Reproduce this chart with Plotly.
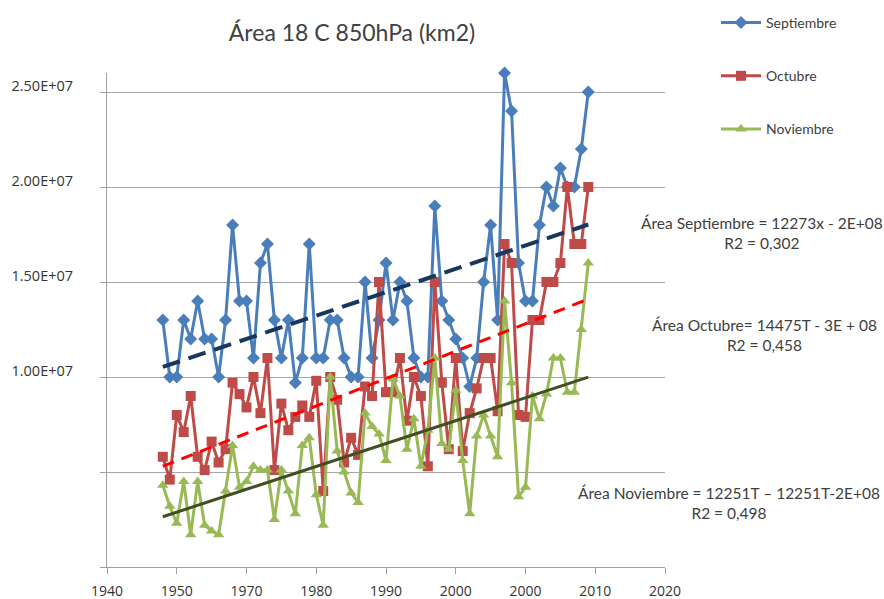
import numpy as np
import plotly.graph_objects as go

years = list(range(1948, 2010))

septiembre = [1.30, 1.00, 1.00, 1.30, 1.20, 1.40, 1.20, 1.20, 1.00, 1.30,
              1.80, 1.40, 1.40, 1.10, 1.60, 1.70, 1.30, 1.10, 1.30, 0.97,
              1.10, 1.70, 1.10, 1.10, 1.30, 1.30, 1.10, 1.00, 1.00, 1.50,
              1.10, 1.30, 1.60, 1.30, 1.50, 1.40, 1.10, 1.00, 1.00, 1.90,
              1.40, 1.30, 1.20, 1.10, 0.95, 1.10, 1.50, 1.80, 1.30, 2.60,
              2.40, 1.60, 1.40, 1.40, 1.80, 2.00, 1.90, 2.10, 2.00, 2.00,
              2.20, 2.50]
septiembre = [v * 1e7 for v in septiembre]

octubre = [5.8, 4.6, 8.0, 7.1, 9.0, 5.8, 5.1, 6.6, 5.5, 6.2,
           9.7, 9.1, 8.4, 10.0, 8.1, 11.0, 5.1, 8.6, 7.2, 7.9,
           8.5, 7.9, 9.8, 4.0, 10.0, 8.8, 5.5, 6.8, 5.9, 9.5,
           9.0, 15.0, 9.2, 9.2, 11.0, 7.7, 10.0, 9.0, 5.3, 15.0,
           9.7, 6.2, 11.0, 6.1, 8.1, 9.4, 11.0, 11.0, 8.2, 17.0,
           16.0, 8.0, 7.9, 13.0, 13.0, 15.0, 15.0, 16.0, 20.0, 17.0,
           17.0, 20.0]
octubre = [v * 1e6 for v in octubre]

noviembre = [4.3, 3.2, 2.3, 4.5, 1.7, 4.5, 2.2, 1.9, 1.7, 4.0,
             6.4, 4.2, 4.5, 5.3, 5.1, 5.1, 2.5, 5.1, 4.0, 2.8,
             6.4, 6.8, 3.8, 2.2, 10.0, 6.1, 5.0, 3.9, 3.4, 8.1,
             7.4, 7.0, 5.6, 9.9, 9.0, 6.2, 7.8, 5.3, 7.2, 11.0,
             6.5, 6.2, 9.3, 5.6, 2.8, 6.9, 8.0, 6.9, 5.8, 14.0,
             9.7, 3.7, 4.2, 9.0, 7.8, 9.1, 11.0, 11.0, 9.2, 9.2,
             12.5, 16.0]
noviembre = [v * 1e6 for v in noviembre]

x_tickvals = [1940, 1950, 1960, 1970, 1980, 1990, 2000, 2010, 2020]
x_ticktext = ["1940", "1950", "1970", "1980", "1990", "2000", "2000", "2010", "2020"]
y_tickvals = [0, 5e6, 1e7, 1.5e7, 2e7, 2.5e7]
y_ticktext = ["", "", "1.00E+07", "1.50E+07", "2.00E+07", "2.50E+07"]

titulo = "Área 18 C 850hPa (km2)"
eq_sep = "Área Septiembre = 12273x - 2E+08<br>R2 = 0,302"
eq_oct = "Área Octubre= 14475T - 3E + 08<br>R2 = 0,458"
eq_nov = "Área Noviembre = 12251T – 12251T-2E+08<br>R2 = 0,498"

C_SEP = "#4A7EBB"
C_OCT = "#BE4B48"
C_NOV = "#98B954"

W, H = 884, 599
L, T = 107, 73
PW, PH = 558, 494

fig = go.Figure()

series = [
    ("Septiembre", septiembre, C_SEP, "diamond", 10),
    ("Octubre", octubre, C_OCT, "square", 10),
    ("Noviembre", noviembre, C_NOV, "triangle-up", 10),
]
for i, (name, vals, col, sym, sz) in enumerate(series):
    fig.add_trace(go.Scatter(
        x=years, y=vals, name=name, mode="lines+markers",
        line=dict(color=col, width=3),
        marker=dict(symbol=sym, size=sz, color=col),
        legendgroup=f"g{i}", cliponaxis=False,
    ))

trends = [
    (septiembre, "#17375E", 4, "18px,9px"),
    (octubre, "#FF0000", 3, "12px,8px"),
    (noviembre, "#3F4F22", 3, "solid"),
]
yrs = np.array(years, dtype=float)
for vals, col, w, dash in trends:
    m, b = np.polyfit(yrs, np.array(vals), 1)
    xx = [years[0], years[-1]]
    fig.add_trace(go.Scatter(
        x=xx, y=[m * xx[0] + b, m * xx[1] + b], mode="lines",
        line=dict(color=col, width=w, dash=dash),
        showlegend=False, hoverinfo="skip",
    ))


def px(sx):
    return (sx - L) / PW


def py(sy):
    return (T + PH - sy) / PH


fig.update_layout(
    width=W, height=H,
    margin=dict(l=L, r=W - L - PW, t=T, b=H - T - PH, autoexpand=False),
    paper_bgcolor="white", plot_bgcolor="white",
    title=dict(text=titulo, x=352 / W, xanchor="center",
               y=1 - 33 / H, yanchor="middle",
               font=dict(family="Lato", size=23, color="#404040")),
    showlegend=True,
    legend=dict(x=px(716), y=py(7), xanchor="left", yanchor="top",
                font=dict(family="Lato", size=14, color="#404040"),
                tracegroupgap=32, itemwidth=40, bgcolor="rgba(0,0,0,0)"),
    xaxis=dict(range=[1940, 2020], tickvals=x_tickvals, ticktext=x_ticktext,
               showgrid=False, zeroline=False, showline=True, linecolor="#A0A0A0",
               linewidth=1, ticks="outside", ticklen=6, tickcolor="#A0A0A0",
               ticklabelstandoff=5,
               tickfont=dict(family="Open Sans", size=14, color="#333333")),
    yaxis=dict(range=[0, 2.6e7], tickvals=y_tickvals, ticktext=y_ticktext,
               showgrid=True, gridcolor="#A6A6A6", gridwidth=1, zeroline=False,
               showline=True, linecolor="#A0A0A0", linewidth=1,
               ticks="outside", ticklen=6, tickcolor="#A0A0A0",
               ticklabelstandoff=24, ticklabelshift=-6,
               tickfont=dict(family="Open Sans", size=14.5, color="#333333")),
)

ann_font = dict(family="Lato", size=15.5, color="#404040")
fig.add_annotation(xref="paper", yref="paper", x=px(762), y=py(233),
                   xanchor="center", yanchor="middle",
                   text=eq_sep, showarrow=False, align="center", font=ann_font)
fig.add_annotation(xref="paper", yref="paper", x=px(764), y=py(335),
                   xanchor="center", yanchor="middle",
                   text=eq_oct, showarrow=False, align="center", font=ann_font)
fig.add_annotation(xref="paper", yref="paper", x=px(729), y=py(503),
                   xanchor="center", yanchor="middle",
                   text=eq_nov, showarrow=False, align="center", font=ann_font)

fig.write_html(
    "out.html",
    config={"displayModeBar": False},
    post_script="document.body.style.margin='0';document.body.style.overflow='hidden';",
)
